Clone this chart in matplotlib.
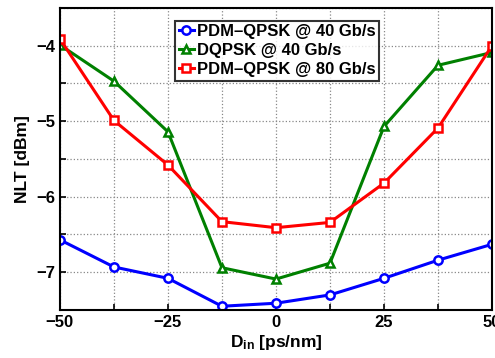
import numpy as np
import matplotlib
matplotlib.use("Agg")
import matplotlib.pyplot as plt

plt.rcParams["font.family"] = ["Liberation Sans", "DejaVu Sans"]
plt.rcParams["font.weight"] = "bold"
plt.rcParams["mathtext.fontset"] = "custom"
plt.rcParams["mathtext.bf"] = "Liberation Sans:bold"
plt.rcParams["mathtext.rm"] = "Liberation Sans:bold"

d_in = [-50, -37.5, -25, -12.5, 0, 12.5, 25, 37.5, 50]
pdm40 = [-6.57, -6.93, -7.08, -7.45, -7.41, -7.30, -7.08, -6.84, -6.63]
dqpsk40 = [-3.99, -4.47, -5.14, -6.94, -7.09, -6.88, -5.07, -4.26, -4.09]
pdm80 = [-3.91, -4.99, -5.58, -6.33, -6.41, -6.34, -5.82, -5.09, -4.00]

fig = plt.figure(figsize=(4.95, 3.58), dpi=100)
ax = fig.add_axes([0.121, 0.134, 0.873, 0.844])

kw = dict(lw=2.2, ms=6, mew=1.8, mfc="white")
ax.plot(d_in, pdm40, "-o", color="#0000ff", label="PDM\u2013QPSK @ 40 Gb/s", **kw)
ax.plot(d_in, dqpsk40, "-^", color="#008000", label="DQPSK @ 40 Gb/s", **kw)
ax.plot(d_in, pdm80, "-s", color="#ff0000", label="PDM\u2013QPSK @ 80 Gb/s", **kw)

ax.set_xlim(-50, 50)
ax.set_ylim(-7.5, -3.5)
ax.set_xticks(np.arange(-50, 50.1, 12.5))
ax.set_xticklabels(["\u221250", "", "\u221225", "", "0", "", "25", "", "50"])
ax.set_yticks(np.arange(-7.5, -3.49, 0.5))
ax.set_yticklabels(["", "\u22127", "", "\u22126", "", "\u22125", "", "\u22124", ""])
ax.tick_params(direction="in", labelsize=12, length=4, width=1.2)
ax.grid(True, ls=":", color="#888888", lw=0.9)
for s in ax.spines.values():
    s.set_linewidth(1.5)

ax.set_xlabel(r"$\mathbf{D_{in}}$ [ps/nm]", fontsize=12.5, fontweight="bold", labelpad=2)
ax.set_ylabel("NLT [dBm]", fontsize=12.5, fontweight="bold", labelpad=4)

leg = ax.legend(loc="upper left", bbox_to_anchor=(0.267, 0.958), fontsize=12,
                frameon=True, fancybox=False, edgecolor="black", borderpad=0.2,
                handlelength=0.9, handletextpad=0.2, labelspacing=0.25,
                borderaxespad=0)
leg.get_frame().set_linewidth(1.5)
for t in leg.get_texts():
    t.set_fontweight("bold")

fig.savefig("out.png", dpi=100)
